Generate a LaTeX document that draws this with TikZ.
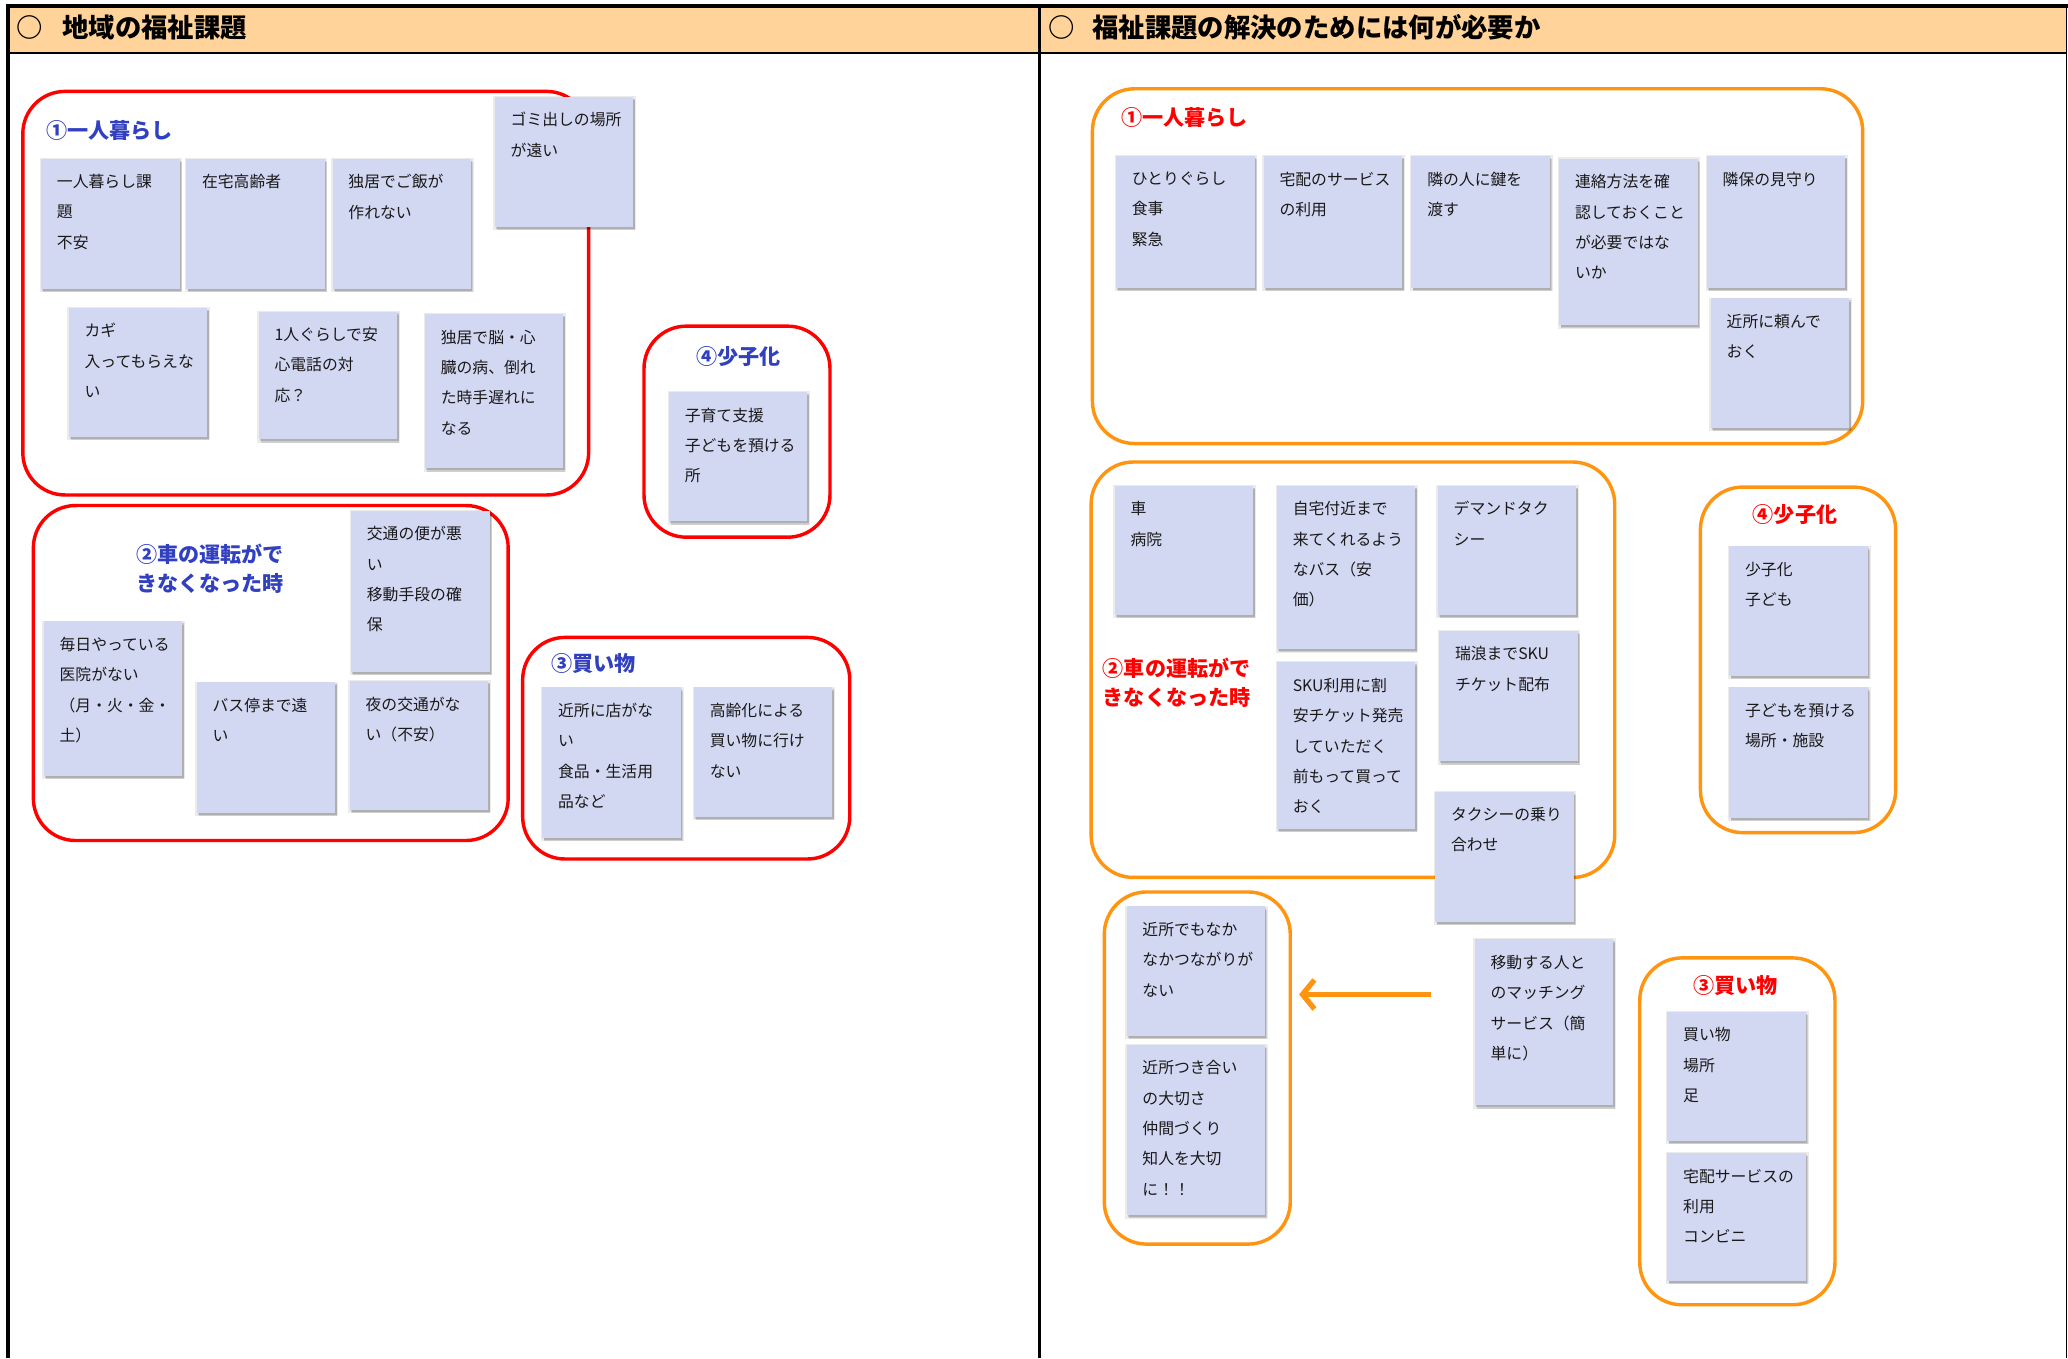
\documentclass[tikz,border=0pt]{standalone}
\usepackage{fontspec}
\newfontfamily\jp{Noto Sans CJK JP}
\usetikzlibrary{shadows,arrows.meta}
\definecolor{hdr}{RGB}{255,211,153}
\definecolor{notefill}{RGB}{211,216,242}
\definecolor{grpred}{RGB}{255,0,0}
\definecolor{grporange}{RGB}{255,148,16}
\definecolor{ttlblue}{RGB}{48,64,192}
\tikzset{
  notebox/.style={rectangle, fill=notefill, minimum width=105pt, inner sep=0pt,
    general shadow={shadow xshift=0.5pt, shadow yshift=-1pt, shadow scale=1.03, opacity=0.08, fill=black},
    general shadow={shadow xshift=1.5pt, shadow yshift=-2.5pt, opacity=0.12, fill=black},
    general shadow={shadow xshift=1pt, shadow yshift=-1.5pt, opacity=0.15, fill=black}},
  notetext/.style={inner sep=0pt, align=left, font=\jp\fontsize{12}{23}\selectfont, text=black!90},
  redgrp/.style={draw=grpred, line width=2.6pt, rounded corners=32pt, inner sep=0pt},
  orggrp/.style={draw=grporange, line width=2.6pt, rounded corners=32pt, inner sep=0pt},
  bluettl/.style={inner sep=0pt, align=left, text=ttlblue, font=\jp\bfseries\fontsize{16}{22}\selectfont},
  redttl/.style={inner sep=0pt, align=left, text=grpred, font=\jp\bfseries\fontsize{16}{22}\selectfont},
  hdrtxt/.style={inner sep=0pt, anchor=west, font=\jp\bfseries\fontsize{20}{24}\selectfont},
}
\newcommand\stickynote[5]{%
  \node[notebox, minimum height=#4pt, anchor=north west] (#1) at (#2,#3) {};
  \node[notetext, anchor=north west] (#1t) at ([xshift=12pt,yshift=-12pt]#1.north west) {#5};
}
\newcommand\grp[6]{% style,name,x1,y1,x2,y2
  \node[#1, anchor=north west, minimum width=#5pt-#3pt, minimum height=#6pt-#4pt] (#2) at (#3,#4) {};
}
\begin{document}
\begin{tikzpicture}[x=1pt,y=-1pt]
\useasboundingbox (0,0) rectangle (1568,1030);
\fill[white] (0,0) rectangle (1568,1030);
% header
\fill[hdr] (6,5) rectangle (1567,40);
\draw[line width=3pt] (5,4.5) -- (1568,4.5);
\draw[line width=1.6pt] (6,40) -- (1567,40);
\draw[line width=3pt] (6,3) -- (6,1030);
\draw[line width=2.4pt] (788,5) -- (788,1030);
\draw[line width=1pt] (1567,5) -- (1567,1030);
\node[hdrtxt] (hl0) at (12,21) {○};
\node[hdrtxt] (hl1) at (47,21) {地域の福祉課題};
\node[hdrtxt] (hr0) at (795,21) {○};
\node[hdrtxt] (hr1) at (828,21) {福祉課題の解決のためには何が必要か};

% ---------- left groups ----------
\grp{redgrp}{g1}{16}{68}{445}{374}
\grp{redgrp}{g4}{487}{246}{628}{406}
\grp{redgrp}{g2}{24}{382}{384}{636}
\grp{redgrp}{g3}{395}{482}{643}{650}
\node[bluettl, anchor=west] (tg1) at (35,99) {①一人暮らし};
\node[bluettl] (tg4) at (560,270) {④少子化};
\node[bluettl, anchor=west] (tg2) at (103,431) {②車の運転がで\\きなくなった時};
\node[bluettl, anchor=west] (tg3) at (418,503) {③買い物};

\stickynote{a1}{31}{120}{99}{一人暮らし課\\題\\不安}
\stickynote{a2}{141}{120}{99}{在宅高齢者}
\stickynote{a3}{252}{120}{99}{独居でご飯が\\作れない}
\stickynote{a4}{375}{73}{99}{ゴミ出しの場所\\が遠い}
\stickynote{a5}{52}{233}{98}{カギ\\入ってもらえな\\い}
\stickynote{a6}{196}{236}{97}{1人ぐらしで安\\心電話の対\\応？}
\stickynote{a7}{322}{238}{117}{独居で脳・心\\臓の病、倒れ\\た時手遅れに\\なる}
\stickynote{d1}{507}{297}{98}{子育て支援\\子どもを預ける\\所}
\stickynote{b1}{266}{387}{122}{交通の便が悪\\い\\移動手段の確\\保}
\stickynote{b2}{33}{471}{117}{毎日やっている\\医院がない\\（月・火・金・\\土）}
\stickynote{b3}{149}{517}{99}{バス停まで遠\\い}
\stickynote{b4}{265}{516}{98}{夜の交通がな\\い（不安）}
\stickynote{c1}{411}{521}{114}{近所に店がな\\い\\食品・生活用\\品など}
\stickynote{c2}{526}{521}{98}{高齢化による\\買い物に行け\\ない}

% ---------- right groups ----------
\grp{orggrp}{h1}{827}{66}{1411}{335}
\grp{orggrp}{h2}{826}{349}{1223}{664}
\grp{orggrp}{h4}{1288}{368}{1436}{630}
\grp{orggrp}{h5}{836}{675}{977}{942}
\grp{orggrp}{h3}{1242}{725}{1390}{988}
\node[redttl, anchor=west] (th1) at (850,89) {①一人暮らし};
\node[redttl, anchor=west] (th2) at (836,518) {②車の運転がで\\きなくなった時};
\node[redttl] (th4) at (1361,390) {④少子化};
\node[redttl] (th3) at (1316,747) {③買い物};

\stickynote{r1}{846}{118}{100}{ひとりぐらし\\食事\\緊急}
\stickynote{r2}{958}{118}{100}{宅配のサービス\\の利用}
\stickynote{r3}{1070}{118}{100}{隣の人に鍵を\\渡す}
\stickynote{r4}{1182}{120}{126}{連絡方法を確\\認しておくこと\\が必要ではな\\いか}
\stickynote{r5}{1294}{118}{100}{隣保の見守り}
\stickynote{r6}{1297}{226}{98}{近所に頼んで\\おく}
\stickynote{s1}{845}{368}{98}{車\\病院}
\stickynote{s2}{968}{368}{124}{自宅付近まで\\来てくれるよう\\なバス（安\\価）}
\stickynote{s3}{1090}{368}{98}{デマンドタク\\シー}
\stickynote{s4}{968}{502}{126}{SKU利用に割\\安チケット発売\\していただく\\前もって買って\\おく}
\stickynote{s5}{1091}{478}{99}{瑞浪までSKU\\チケット配布}
\stickynote{s6}{1088}{600}{99}{タクシーの乗り\\合わせ}
\stickynote{k1}{1311}{414}{98}{少子化\\子ども}
\stickynote{k2}{1311}{521}{99}{子どもを預ける\\場所・施設}
\stickynote{n1}{854}{687}{98}{近所でもなか\\なかつながりが\\ない}
\stickynote{n2}{854}{792}{129}{近所つき合い\\の大切さ\\仲間づくり\\知人を大切\\に！！}
\stickynote{m1}{1118}{712}{126}{移動する人と\\のマッチング\\サービス（簡\\単に）}
\stickynote{p1}{1264}{767}{98}{買い物\\場所\\足}
\stickynote{p2}{1264}{874}{97}{宅配サービスの\\利用\\コンビニ}

% arrow
\coordinate (arrS) at (1085,754);
\coordinate (arrE) at (985,754);
\draw[grporange, line width=4pt, -{Straight Barb[length=9pt,width=22pt]}] (arrS) -- (arrE);
\end{tikzpicture}
\end{document}
